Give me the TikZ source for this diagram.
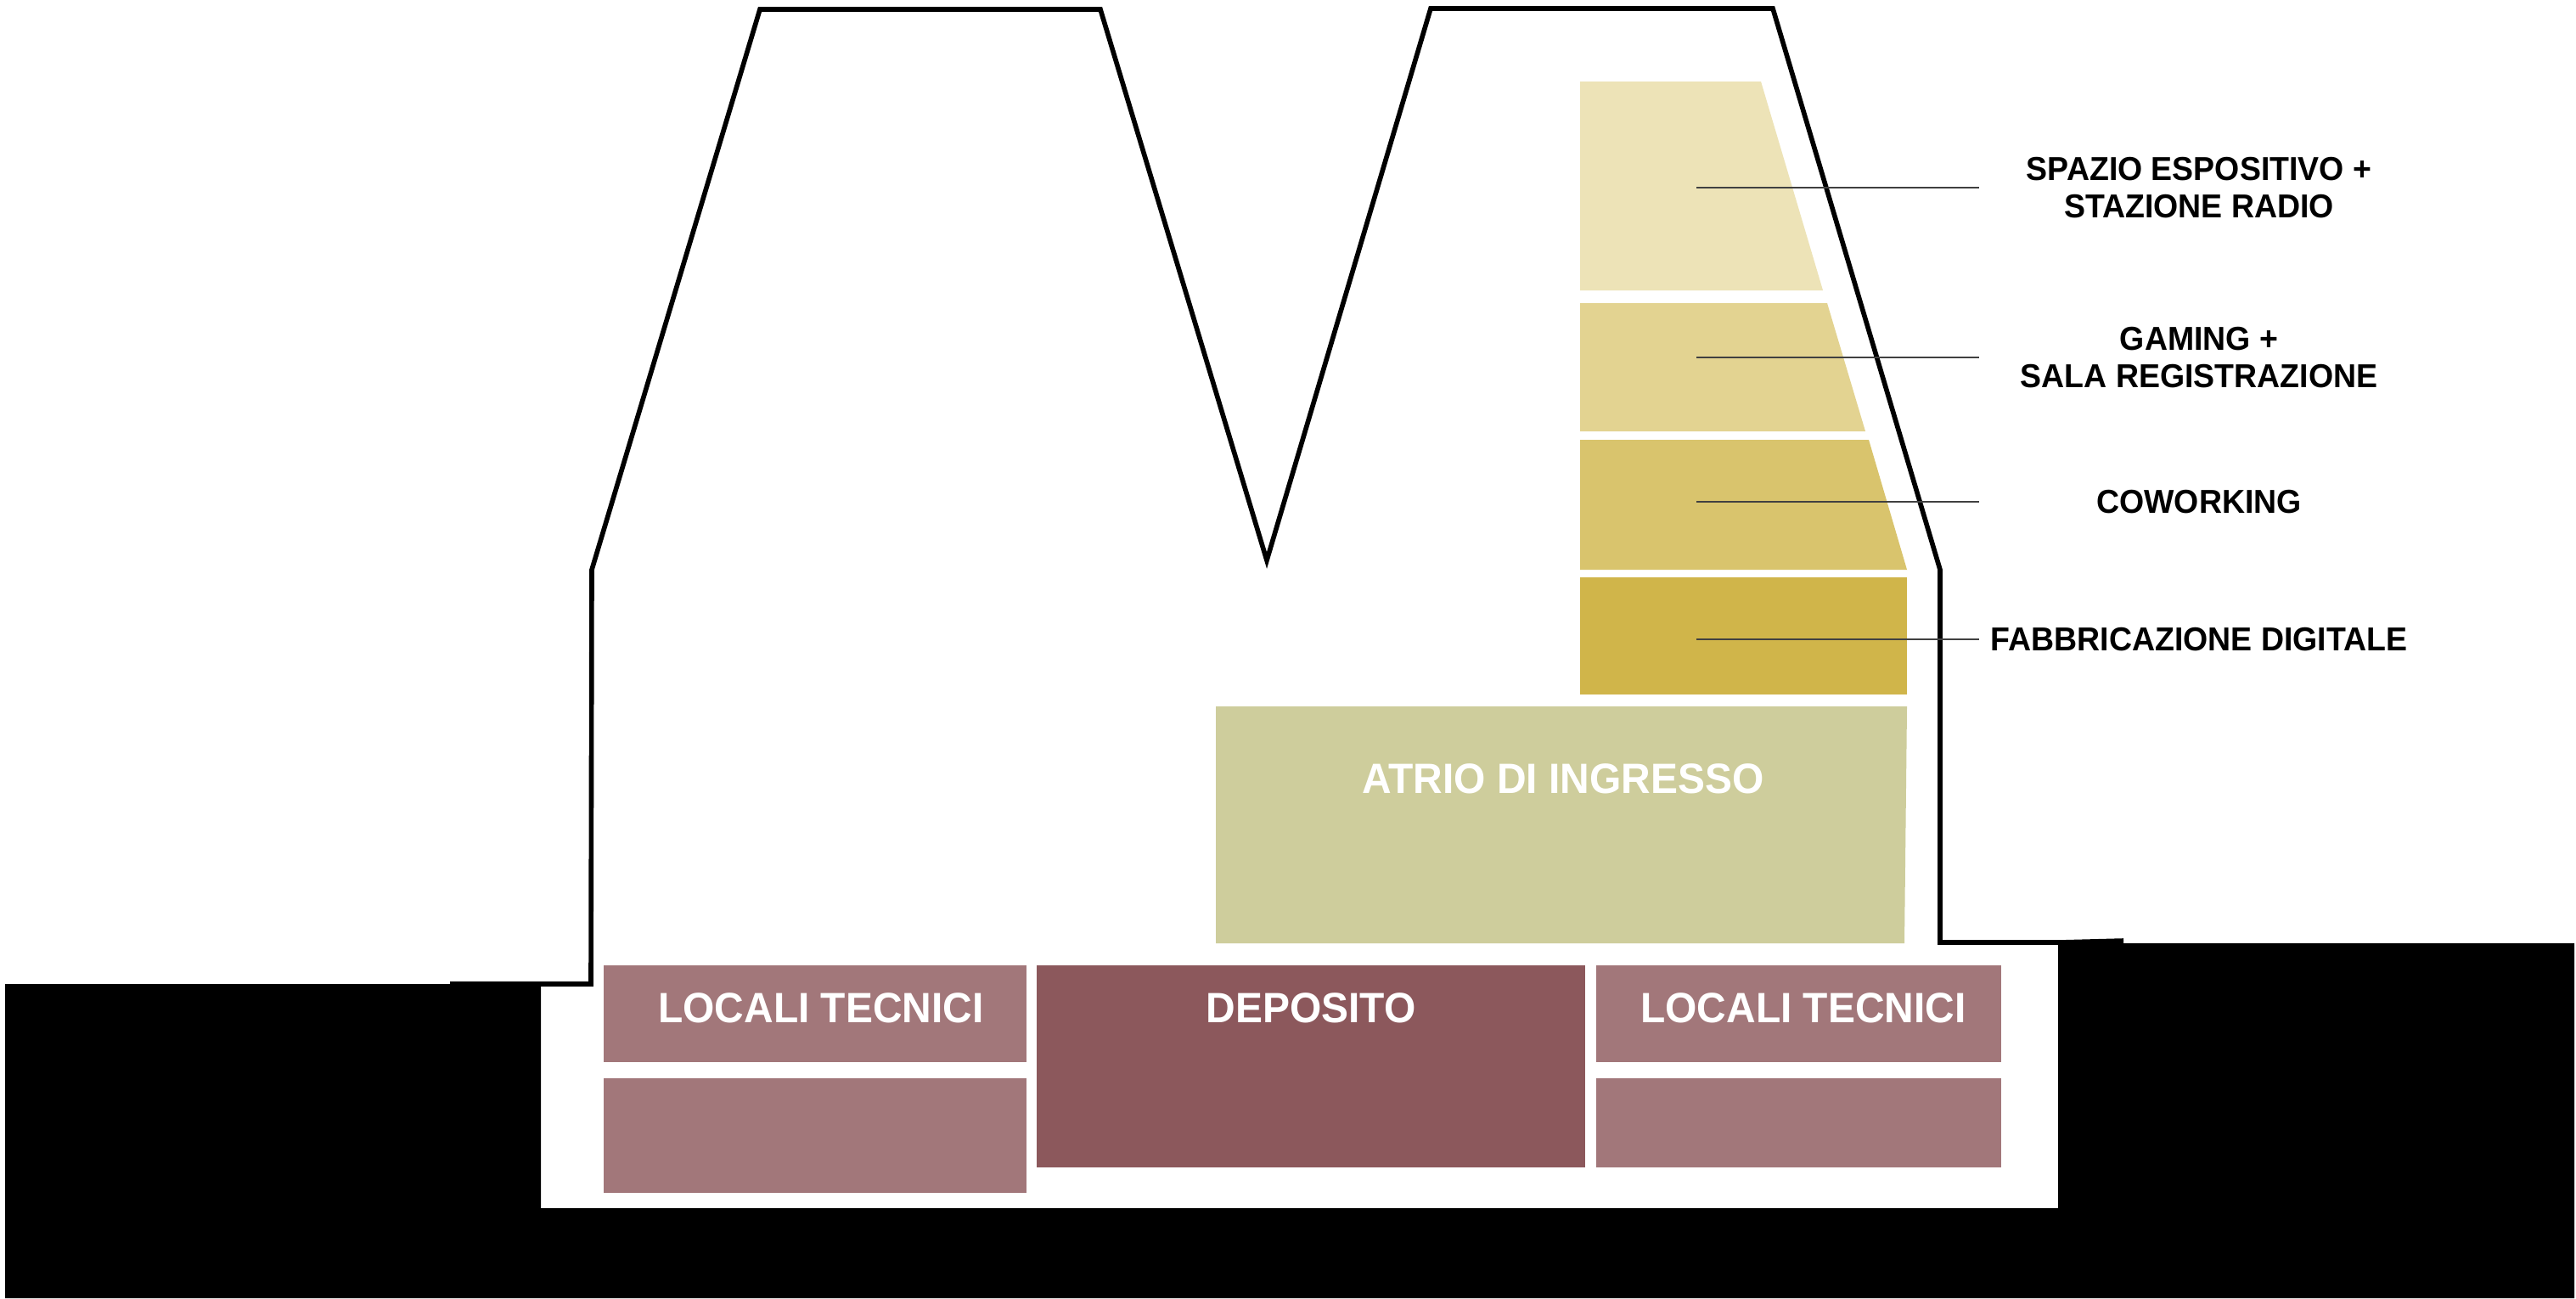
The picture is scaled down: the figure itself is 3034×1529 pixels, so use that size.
\documentclass[tikz,border=0pt]{standalone}
\usepackage{fontspec}
\setmainfont[FakeStretch=0.96]{Liberation Sans}
\usepackage{tikz}

\definecolor{spazio}{HTML}{EDE3B7}
\definecolor{gaming}{HTML}{E3D391}
\definecolor{coworking}{HTML}{D9C46D}
\definecolor{fabbrica}{HTML}{D0B54A}
\definecolor{atrio}{HTML}{CECD9C}
\definecolor{deposito}{HTML}{8C585C}
\definecolor{locali}{HTML}{A2777A}

\tikzset{
  sezione/.style={line width=1.6pt, line join=miter},
  leader/.style={line width=0.4pt, black!75},
  etichetta/.style={font=\fontsize{11.1}{12.7}\selectfont\bfseries, align=center, inner sep=0pt},
  interno/.style={font=\fontsize{14.2}{16}\selectfont\bfseries, text=white, inner sep=0pt}
}

\begin{document}
\begin{tikzpicture}[x=0.01cm, y=-0.01cm]
  \useasboundingbox (0,0) rectangle (3034,1529);
  \fill[white] (0,0) rectangle (3034,1529);
  \fill[black] (6,1159) -- (637,1159) -- (637,1423) -- (2424,1423) -- (2424,1111)
    -- (3032,1111) -- (3032,1529) -- (6,1529) -- cycle;
  \fill[spazio] (1861,96) -- (2074,96) -- (2147,342) -- (1861,342) -- cycle;
  \fill[gaming] (1861,357) -- (2152,357) -- (2197,508) -- (1861,508) -- cycle;
  \fill[coworking] (1861,518) -- (2201,518) -- (2246,671) -- (1861,671) -- cycle;
  \fill[fabbrica] (1861,680) rectangle (2246,818);
  \fill[atrio] (1432,832) -- (2246,832) -- (2243,1111) -- (1432,1111) -- cycle;
  \fill[locali] (711,1137) rectangle (1209,1251);
  \fill[locali] (711,1270) rectangle (1209,1405);
  \fill[deposito] (1221,1137) rectangle (1867,1375);
  \fill[locali] (1880,1137) rectangle (2357,1251);
  \fill[locali] (1880,1270) rectangle (2357,1375);
  \draw[sezione] (530,1159) -- (696,1159) -- (697,671) -- (895,11) -- (1296,11) -- (1492,660)
    -- (1685,10) -- (2088,10) -- (2285,671) -- (2285,1110) -- (2425,1110) -- (2501,1108);
  \node[interno] (atrioL) at (1841,917) {ATRIO DI INGRESSO};
  \node[interno] (localiA) at (967,1187) {LOCALI TECNICI};
  \node[interno] (depositoL) at (1544,1187) {DEPOSITO};
  \node[interno] (localiB) at (2124,1187) {LOCALI TECNICI};
  \node[etichetta] (spazioL) at (2590,221) {SPAZIO ESPOSITIVO +\\STAZIONE RADIO};
  \node[etichetta] (gamingL) at (2590,421) {GAMING +\\SALA REGISTRAZIONE};
  \node[etichetta] (coworkingL) at (2590,591) {COWORKING};
  \node[etichetta] (fabbricaL) at (2590,753) {FABBRICAZIONE DIGITALE};
  \coordinate (a1) at (1998,221);
  \coordinate (b1) at (2331,221);
  \coordinate (a2) at (1998,421);
  \coordinate (b2) at (2331,421);
  \coordinate (a3) at (1998,591);
  \coordinate (b3) at (2331,591);
  \coordinate (a4) at (1998,753);
  \coordinate (b4) at (2331,753);
  \draw[leader] (a1) -- (b1);
  \draw[leader] (a2) -- (b2);
  \draw[leader] (a3) -- (b3);
  \draw[leader] (a4) -- (b4);
\end{tikzpicture}
\end{document}
